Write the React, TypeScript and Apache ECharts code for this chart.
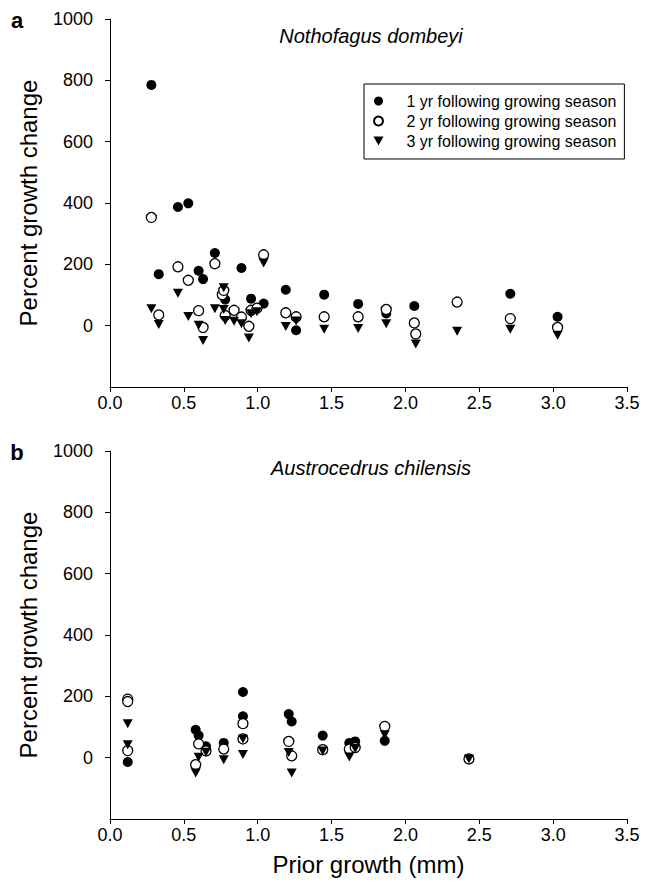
import React, { useEffect, useRef } from "react";
import * as echarts from "echarts";

// Panel a: Nothofagus dombeyi  [prior growth (mm), percent growth change]
const nothoYr1: [number, number][] = [
  [0.28, 785], [0.33, 168], [0.46, 387], [0.53, 399], [0.60, 179], [0.63, 152],
  [0.71, 237], [0.78, 85], [0.89, 188], [0.955, 88], [1.04, 72], [1.19, 117],
  [1.26, -15], [1.45, 101], [1.68, 71], [1.87, 40], [2.06, 64], [2.06, 9],
  [2.71, 104], [3.03, 29],
];
const nothoYr2: [number, number][] = [
  [0.28, 353], [0.33, 35], [0.46, 192], [0.53, 148], [0.60, 49], [0.63, -6],
  [0.71, 202], [0.76, 101], [0.77, 115], [0.78, 33], [0.84, 50], [0.89, 28],
  [0.94, -2], [0.955, 50], [0.995, 57], [1.04, 231], [1.19, 42], [1.26, 29],
  [1.45, 29], [1.68, 29], [1.87, 53], [2.06, 9], [2.07, -27], [2.35, 77],
  [2.71, 23], [3.03, -6],
];
const nothoYr3: [number, number][] = [
  [0.28, 55], [0.33, 4], [0.46, 106], [0.53, 30], [0.60, 1], [0.63, -48],
  [0.71, 55], [0.77, 124], [0.77, 53], [0.78, 17], [0.84, 14], [0.89, 6],
  [0.94, -40], [0.955, 39], [0.995, 45], [1.04, 204], [1.19, -3], [1.26, 15],
  [1.45, -12], [1.68, -9], [1.87, 6], [2.07, -60], [2.35, -18], [2.71, -12],
  [3.03, -31],
];

// Panel b: Austrocedrus chilensis
const austroYr1: [number, number][] = [
  [0.12, -14], [0.58, 91], [0.60, 72], [0.65, 37], [0.77, 48], [0.90, 214],
  [0.90, 135], [1.21, 142], [1.23, 118], [1.44, 72], [1.62, 48], [1.66, 53],
  [1.86, 55], [2.43, -6],
];
const austroYr2: [number, number][] = [
  [0.12, 191], [0.12, 183], [0.12, 23], [0.58, -23], [0.60, 45], [0.65, 22],
  [0.77, 28], [0.90, 111], [0.90, 61], [1.21, 53], [1.23, 6], [1.44, 26],
  [1.62, 28], [1.66, 33], [1.86, 102], [2.43, -4],
];
const austroYr3: [number, number][] = [
  [0.12, 111], [0.12, 42], [0.58, -50], [0.60, 1], [0.65, 18], [0.77, -7],
  [0.90, 61], [0.90, 10], [1.21, 17], [1.23, -50], [1.44, 22], [1.62, 2],
  [1.66, 30], [1.86, 75], [2.43, -4],
];

const seriesNames = [
  "1 yr following growing season",
  "2 yr following growing season",
  "3 yr following growing season",
];
const panelTitles = ["Nothofagus dombeyi", "Austrocedrus chilensis"];
const panelLetters = ["a", "b"];
const yTickValues = [0, 200, 400, 600, 800, 1000];

const FONT = "'Liberation Sans', Arial, Helvetica, sans-serif";
const TRI = "path://M0,0L10,0L5,9Z";

export default function App() {
  const ref = useRef<HTMLDivElement>(null);
  useEffect(() => {
    document.body.style.margin = "0";
    if (!ref.current) return;
    const chart = echarts.init(ref.current, undefined, { renderer: "svg" });

    const grids = [
      { left: 110, top: 19, width: 517, height: 368 },
      { left: 110, top: 451, width: 517, height: 368 },
    ];

    const xAxisBase = (i: number) => ({
      type: "value",
      gridIndex: i,
      min: 0,
      max: 3.5,
      interval: 0.5,
      axisLine: { show: true, onZero: false, lineStyle: { color: "#000", width: 1 } },
      axisTick: { show: true, length: 5, lineStyle: { color: "#000" } },
      splitLine: { show: false },
      axisLabel: {
        color: "#000",
        fontSize: 18,
        fontFamily: FONT,
        margin: 7,
        formatter: (v: number) => v.toFixed(1),
      },
      name: i === 1 ? "Prior growth (mm)" : "",
      nameLocation: "middle",
      nameGap: 33,
      nameTextStyle: { color: "#000", fontSize: 24, fontFamily: FONT },
    });

    const yAxisBase = (i: number) => ({
      type: "value",
      gridIndex: i,
      min: -200,
      max: 1000,
      interval: 200,
      axisLine: { show: true, onZero: false, lineStyle: { color: "#000", width: 1 } },
      axisTick: { show: true, length: 5, lineStyle: { color: "#000" }, customValues: yTickValues },
      splitLine: { show: false },
      axisLabel: {
        color: "#000",
        fontSize: 18,
        fontFamily: FONT,
        margin: 17,
        customValues: yTickValues,
        formatter: (v: number) => (v < 0 ? "" : String(v)),
      },
      name: "Percent growth change",
      nameLocation: "middle",
      nameGap: 70,
      nameTextStyle: { color: "#000", fontSize: 24, fontFamily: FONT },
    });

    const mk = (i: number, data: [number, number][], kind: number) => ({
      type: "scatter",
      name: seriesNames[kind],
      xAxisIndex: i,
      yAxisIndex: i,
      data,
      symbol: kind === 2 ? TRI : "circle",
      symbolSize: kind === 2 ? [10, 9] : 10,
      itemStyle:
        kind === 0
          ? { color: "#000", opacity: 1 }
          : kind === 1
          ? { color: "#fff", borderColor: "#000", borderWidth: 1.3, opacity: 1 }
          : { color: "#000", opacity: 1 },
      z: 2 + kind,
    });

    const option: any = {
      animation: false,
      backgroundColor: "#fff",
      grid: grids.map((g) => ({ ...g, containLabel: false, outerBoundsMode: "none" })),
      xAxis: [xAxisBase(0), xAxisBase(1)],
      yAxis: [yAxisBase(0), yAxisBase(1)],
      legend: {
        left: 364,
        top: 84,
        orient: "vertical",
        data: seriesNames,
        itemWidth: 14,
        itemHeight: 9,
        itemGap: 4,
        padding: [9, 8, 10, 9],
        borderColor: "#000",
        borderWidth: 1,
        borderRadius: 0,
        backgroundColor: "#fff",
        selectedMode: false,
        textStyle: {
          color: "#000",
          fontSize: 16,
          fontFamily: FONT,
          lineHeight: 14,
          padding: [0, 0, 0, 16],
        },
      },
      graphic: [
        ...panelTitles.map((t, i) => ({
          type: "text",
          x: 371,
          y: i === 0 ? 36 : 468,
          style: {
            text: t,
            align: "center",
            verticalAlign: "middle",
            textAlign: "center",
            textVerticalAlign: "middle",
            font: `italic 20px ${FONT}`,
            fill: "#000",
          },
        })),
        ...panelLetters.map((t, i) => ({
          type: "text",
          x: 17,
          y: i === 0 ? 20 : 452,
          style: {
            text: t,
            align: "center",
            verticalAlign: "middle",
            textAlign: "center",
            textVerticalAlign: "middle",
            font: `bold 22px ${FONT}`,
            fill: "#000",
          },
        })),
      ],
      series: [
        mk(0, nothoYr1, 0),
        mk(0, nothoYr2, 1),
        mk(0, nothoYr3, 2),
        mk(1, austroYr1, 0),
        mk(1, austroYr2, 1),
        mk(1, austroYr3, 2),
      ],
    };
    chart.setOption(option);
    return () => chart.dispose();
  }, []);
  return <div ref={ref} style={{ width: 648, height: 887 }} />;
}
